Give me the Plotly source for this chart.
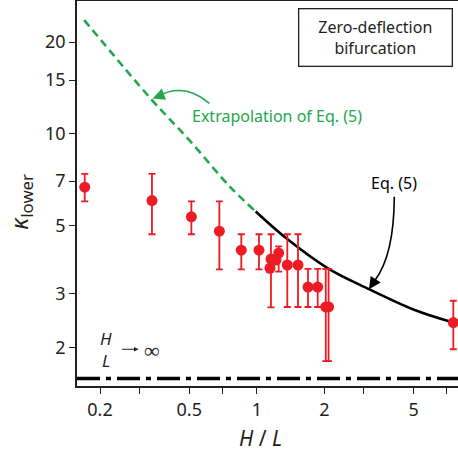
import plotly.graph_objects as go

# ---- data ----
HL = [0.171, 0.341, 0.511, 0.681, 0.853, 1.023, 1.157, 1.145, 1.252, 1.218,
      1.368, 1.527, 1.692, 1.869, 2.03, 2.09, 7.52]
K = [6.69, 6.05, 5.35, 4.80, 4.16, 4.16, 3.89, 3.63, 4.07, 3.86,
     3.72, 3.72, 3.15, 3.15, 2.71, 2.71, 2.41]
K_hi = [7.40, 7.40, 6.01, 6.01, 4.69, 4.69, 4.69, 3.63, 4.28, 3.86,
        4.69, 4.69, 3.61, 3.61, 3.61, 3.61, 2.84]
K_lo = [6.01, 4.69, 4.69, 3.60, 3.60, 3.60, 2.70, 3.63, 3.54, 3.86,
        2.71, 2.71, 2.71, 2.71, 1.80, 1.80, 1.97]

EXTRAP_HL = [0.170, 0.341, 0.500, 0.760, 0.989]
EXTRAP_K = [23.6, 12.91, 9.54, 6.71, 5.57]

EQ5_HL = [0.989, 1.359, 2.084, 3.165, 4.99, 7.52]
EQ5_K = [5.57, 4.54, 3.62, 3.10, 2.66, 2.41]

K_INF = 1.58

X_TICKS = [0.2, 0.3, 0.5, 0.7, 1, 2, 3, 5, 7]
X_TICKTEXT = ["0.2", "", "0.5", "", "1", "2", "", "5", ""]
Y_TICKS = [2, 3, 5, 7, 10, 15, 20]
Y_TICKTEXT = ["2", "3", "5", "7", "10", "15", "20"]

RED = "#ED1C24"
GREEN = "#22A84A"
INK = "#231F20"
FONT = "Noto Sans"

err_plus = [h - k for h, k in zip(K_hi, K)]
err_minus = [k - l for k, l in zip(K, K_lo)]

fig = go.Figure()

fig.add_trace(go.Scatter(
    x=EXTRAP_HL, y=EXTRAP_K, mode="lines", line_shape="spline",
    line=dict(color=GREEN, width=2.6, dash="8px,5px"), showlegend=False))
fig.add_trace(go.Scatter(
    x=EQ5_HL, y=EQ5_K, mode="lines", line_shape="spline",
    line=dict(color="black", width=2.6), showlegend=False))

fig.add_hline(y=K_INF, line=dict(color="black", width=3.5, dash="23px,6px,5px,6px"))

fig.add_trace(go.Scatter(
    x=HL, y=K, mode="markers",
    marker=dict(color=RED, size=11),
    error_y=dict(type="data", array=err_plus, arrayminus=err_minus,
                 color=RED, thickness=1.8, width=3.5),
    showlegend=False))


def px2paper(px, py):
    return (px - 77) / 381.0, (385.7 - py) / 384.7


def label(px, py, text, size, color=INK, xanchor="center", **kw):
    x, y = px2paper(px, py)
    d = dict(x=x, y=y, xref="paper", yref="paper", showarrow=False, text=text,
             xanchor=xanchor, yanchor="middle",
             font=dict(family=FONT, size=size, color=color))
    d.update(kw)
    return d


def arrowhead(px, py, ax, ay, color, size=1.5, width=1.6):
    x, y = px2paper(px, py)
    return dict(x=x, y=y, xref="paper", yref="paper", text="", showarrow=True,
                ax=ax, ay=ay, arrowhead=2, arrowsize=size, arrowwidth=width,
                arrowcolor=color, standoff=0, xanchor="center", yanchor="middle")


anns = [
    label(375.5, 37.5, "Zero-deflection<br>bifurcation", 16, align="center",
          bordercolor=INK, borderwidth=1.3, borderpad=0, width=152, height=56,
          bgcolor="white"),
    label(190, 115.7, "Extrapolation of Eq. (5)", 16, color=GREEN, xanchor="left"),
    label(394, 183, "Eq. (5)", 16, color="black"),
    arrowhead(152.7, 98.3, 8, -3, GREEN),
    arrowhead(369, 289, 6, -9, "black"),
    label(106, 338, "<i>H</i>", 17),
    label(106, 360, "<i>L</i>", 17),
    arrowhead(138.5, 349, -18, 0, INK, size=0.9, width=1),
    label(152, 349, "∞", 22),
    label(20, 201.5, "<i>κ</i><sub>lower</sub>", 24, textangle=-90),
    label(260, 438, "<i>H</i> / <i>L</i>", 21),
]

shapes = []
x0, y0 = px2paper(96.7, 348.3)
x1, _ = px2paper(115, 348.3)
shapes.append(dict(type="line", xref="paper", yref="paper", x0=x0, x1=x1, y0=y0, y1=y0,
                   line=dict(color=INK, width=1.2)))


def qpath(p0, c, p1):
    a = px2paper(*p0); b = px2paper(*c); d = px2paper(*p1)
    return f"M {a[0]},{a[1]} Q {b[0]},{b[1]} {d[0]},{d[1]}"


shapes.append(dict(type="path", xref="paper", yref="paper",
                   path=qpath((209.3, 103.3), (185, 82), (158, 96)),
                   line=dict(color=GREEN, width=1.6)))
shapes.append(dict(type="path", xref="paper", yref="paper",
                   path=qpath((394.3, 196.7), (394, 255), (375, 280)),
                   line=dict(color="black", width=1.6)))

fig.update_layout(
    width=458, height=454,
    margin=dict(l=77, r=0, t=1, b=68),
    paper_bgcolor="white", plot_bgcolor="white",
    font=dict(family=FONT, color=INK, size=18),
    annotations=anns, shapes=shapes,
    xaxis=dict(type="log", range=[-0.8015, 0.8971],
               tickvals=X_TICKS, ticktext=X_TICKTEXT,
               showgrid=False, zeroline=False,
               showline=True, linecolor=INK, linewidth=1.8, mirror=True,
               ticks="outside", ticklen=6, tickwidth=1.3, tickcolor=INK,
               tickfont=dict(family=FONT, size=18, color=INK)),
    yaxis=dict(type="log", range=[0.1741, 1.4354],
               tickvals=Y_TICKS, ticktext=Y_TICKTEXT,
               showgrid=False, zeroline=False,
               showline=True, linecolor=INK, linewidth=1.8,
               ticks="outside", ticklen=6, tickwidth=1.3, tickcolor=INK,
               tickfont=dict(family=FONT, size=18, color=INK)),
)

fig.write_html("out.html", config={"displayModeBar": False},
               post_script="document.body.style.margin='0';document.body.style.overflow='hidden';")
